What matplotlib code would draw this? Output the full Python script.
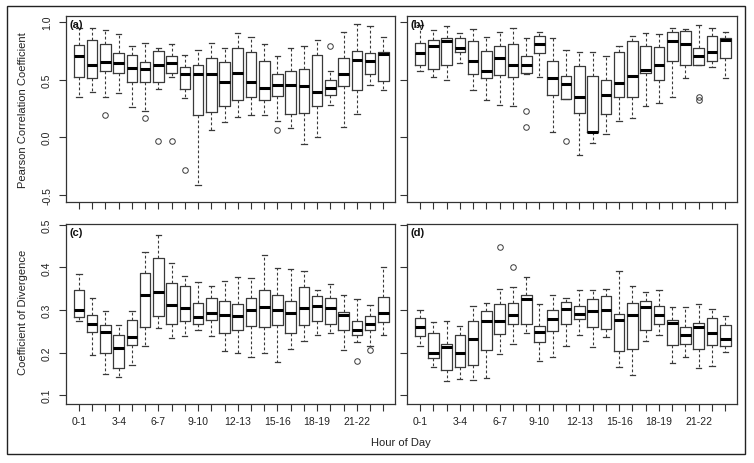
import matplotlib
matplotlib.use("Agg")
import matplotlib.pyplot as plt
from matplotlib.patches import Rectangle

plt.rcParams['font.family'] = ['Liberation Sans', 'DejaVu Sans']

hours = ["%d-%d" % (h, h + 1) for h in range(24)]

# Panel (a): Pearson correlation
a_whislo = [0.35, 0.39, 0.35, 0.38, 0.26, 0.23, 0.42, 0.52, 0.34, -0.41, 0.06, 0.13,
            0.18, 0.19, 0.19, 0.14, 0.08, -0.06, 0.00, 0.28, 0.09, 0.20, 0.45, 0.41]
a_q1 = [0.52, 0.51, 0.57, 0.56, 0.48, 0.48, 0.48, 0.56, 0.42, 0.19, 0.22, 0.27,
        0.32, 0.35, 0.32, 0.36, 0.20, 0.21, 0.27, 0.37, 0.44, 0.41, 0.55, 0.49]
a_med = [0.70, 0.63, 0.65, 0.64, 0.60, 0.59, 0.63, 0.64, 0.55, 0.55, 0.55, 0.48,
         0.56, 0.48, 0.43, 0.45, 0.45, 0.44, 0.39, 0.43, 0.55, 0.67, 0.66, 0.72]
a_q3 = [0.80, 0.84, 0.81, 0.73, 0.71, 0.65, 0.75, 0.70, 0.61, 0.63, 0.69, 0.65,
        0.77, 0.74, 0.66, 0.55, 0.57, 0.59, 0.71, 0.50, 0.69, 0.75, 0.73, 0.74]
a_whishi = [0.95, 0.95, 0.93, 0.89, 0.79, 0.82, 0.77, 0.81, 0.71, 0.76, 0.82, 0.77,
            0.90, 0.87, 0.81, 0.70, 0.77, 0.79, 0.84, 0.57, 0.91, 0.98, 0.96, 0.87]
a_out = {2: [0.19], 5: [0.17], 6: [-0.03], 7: [-0.03], 8: [-0.28], 15: [0.06], 19: [0.79]}

# Panel (b): Pearson correlation
b_whislo = [0.57, 0.52, 0.50, 0.64, 0.41, 0.32, 0.28, 0.27, 0.55, 0.52, 0.05, 0.33,
            -0.15, -0.05, 0.03, 0.14, 0.17, 0.27, 0.30, 0.35, 0.51, 0.63, 0.61, 0.51]
b_q1 = [0.63, 0.59, 0.63, 0.74, 0.55, 0.51, 0.54, 0.52, 0.56, 0.73, 0.37, 0.33,
        0.21, 0.05, 0.20, 0.35, 0.35, 0.56, 0.50, 0.66, 0.63, 0.63, 0.66, 0.69]
b_med = [0.73, 0.79, 0.83, 0.77, 0.66, 0.57, 0.69, 0.63, 0.63, 0.81, 0.51, 0.46,
         0.35, 0.05, 0.37, 0.47, 0.53, 0.58, 0.63, 0.83, 0.81, 0.70, 0.74, 0.84]
b_q3 = [0.82, 0.84, 0.86, 0.86, 0.83, 0.75, 0.79, 0.81, 0.70, 0.88, 0.66, 0.53,
        0.62, 0.53, 0.50, 0.74, 0.83, 0.79, 0.78, 0.91, 0.92, 0.77, 0.88, 0.86]
b_whishi = [0.97, 0.93, 0.96, 0.90, 0.94, 0.87, 0.91, 0.95, 0.86, 0.91, 0.86, 0.76,
            0.74, 0.74, 0.70, 0.79, 0.88, 0.90, 0.89, 0.95, 0.94, 0.97, 0.95, 0.91]
b_out = {8: [0.23, 0.09], 11: [-0.03], 21: [0.32, 0.35]}

# Panel (c): coefficient of divergence
c_whislo = [0.274, 0.195, 0.150, 0.142, 0.170, 0.216, 0.258, 0.233, 0.239, 0.253, 0.239, 0.204,
            0.198, 0.190, 0.198, 0.178, 0.209, 0.226, 0.241, 0.245, 0.206, 0.225, 0.216, 0.240]
c_q1 = [0.284, 0.249, 0.200, 0.164, 0.218, 0.260, 0.285, 0.268, 0.274, 0.268, 0.277, 0.245,
        0.253, 0.262, 0.260, 0.264, 0.246, 0.264, 0.274, 0.268, 0.253, 0.240, 0.254, 0.271]
c_med = [0.301, 0.267, 0.249, 0.210, 0.237, 0.334, 0.343, 0.312, 0.304, 0.284, 0.292, 0.289,
         0.285, 0.301, 0.307, 0.301, 0.294, 0.305, 0.310, 0.305, 0.287, 0.253, 0.267, 0.293]
c_q3 = [0.346, 0.288, 0.264, 0.240, 0.276, 0.388, 0.423, 0.363, 0.357, 0.317, 0.329, 0.320,
        0.315, 0.328, 0.346, 0.335, 0.321, 0.354, 0.332, 0.328, 0.295, 0.274, 0.285, 0.330]
c_whishi = [0.384, 0.329, 0.297, 0.264, 0.297, 0.436, 0.477, 0.410, 0.380, 0.365, 0.357, 0.367,
            0.378, 0.374, 0.429, 0.398, 0.396, 0.392, 0.347, 0.360, 0.336, 0.325, 0.311, 0.402]
c_out = {21: [0.181], 22: [0.205]}

# Panel (d): coefficient of divergence
d_whislo = [0.216, 0.167, 0.134, 0.138, 0.135, 0.139, 0.197, 0.219, 0.246, 0.181, 0.189, 0.216,
            0.240, 0.212, 0.237, 0.167, 0.147, 0.227, 0.240, 0.175, 0.189, 0.164, 0.169, 0.202]
d_q1 = [0.239, 0.188, 0.160, 0.167, 0.171, 0.206, 0.243, 0.267, 0.267, 0.225, 0.250, 0.267,
        0.278, 0.260, 0.256, 0.204, 0.208, 0.253, 0.267, 0.218, 0.221, 0.209, 0.218, 0.216]
d_med = [0.260, 0.198, 0.212, 0.198, 0.232, 0.274, 0.274, 0.289, 0.325, 0.248, 0.278, 0.302,
         0.291, 0.298, 0.300, 0.276, 0.289, 0.307, 0.288, 0.270, 0.240, 0.259, 0.245, 0.232]
d_q3 = [0.281, 0.247, 0.219, 0.241, 0.274, 0.298, 0.314, 0.317, 0.335, 0.262, 0.300, 0.319,
        0.309, 0.326, 0.333, 0.290, 0.316, 0.322, 0.309, 0.277, 0.260, 0.270, 0.280, 0.264]
d_whishi = [0.299, 0.271, 0.273, 0.262, 0.310, 0.317, 0.350, 0.353, 0.378, 0.314, 0.335, 0.328,
            0.346, 0.347, 0.349, 0.392, 0.357, 0.343, 0.348, 0.306, 0.306, 0.313, 0.302, 0.285]
d_out = {6: [0.447], 7: [0.402]}

panels = [
    ("(a)", a_whislo, a_q1, a_med, a_q3, a_whishi, a_out),
    ("(b)", b_whislo, b_q1, b_med, b_q3, b_whishi, b_out),
    ("(c)", c_whislo, c_q1, c_med, c_q3, c_whishi, c_out),
    ("(d)", d_whislo, d_q1, d_med, d_q3, d_whishi, d_out),
]

W, H = 754, 464
fig = plt.figure(figsize=(W / 100, H / 100), dpi=100)

def fr(x0, y0, x1, y1):
    return [x0 / W, 1 - y1 / H, (x1 - x0) / W, (y1 - y0) / H]

rects = [fr(66, 17, 395, 203), fr(407, 17, 737, 203),
         fr(66, 225, 395, 405), fr(407, 225, 737, 405)]

edge = '#3a3a3a'
fs = 7.5
for i, (lab, lo, q1, med, q3, hi, out) in enumerate(panels):
    ax = fig.add_axes(rects[i])
    stats = []
    for k in range(24):
        stats.append(dict(whislo=lo[k], q1=q1[k], med=med[k], q3=q3[k], whishi=hi[k],
                          fliers=out.get(k, [])))
    ax.bxp(stats, positions=list(range(1, 25)), widths=0.8,
           boxprops=dict(color=edge, linewidth=0.9),
           whiskerprops=dict(color=edge, linewidth=0.8, linestyle=(0, (2.5, 2))),
           capprops=dict(color=edge, linewidth=0.9),
           medianprops=dict(color='black', linewidth=2.2, solid_capstyle='butt'),
           flierprops=dict(marker='o', markerfacecolor='none', markeredgecolor=edge,
                           markersize=4, markeredgewidth=0.7),
           capwidths=0.4)
    ax.set_xlim(0.02, 24.88)
    if i < 2:
        ax.set_ylim(-0.56, 1.05)
        ax.set_yticks([-0.5, 0.0, 0.5, 1.0])
    else:
        ax.set_ylim(0.079, 0.502)
        ax.set_yticks([0.1, 0.2, 0.3, 0.4, 0.5])
    ax.set_xticks(list(range(1, 25)))
    if i >= 2:
        ax.set_xticklabels([h if k % 3 == 0 else "" for k, h in enumerate(hours)], fontsize=fs)
    else:
        ax.set_xticklabels([])
    if i % 2 == 0:
        ax.set_yticklabels([("%.1f" % v) for v in ax.get_yticks()], rotation=90,
                           va='center', fontsize=fs)
    else:
        ax.set_yticklabels([])
    ax.tick_params(axis='both', direction='out', length=5, width=0.8, color='#333333',
                   labelcolor='#222222', pad=5)
    ax.tick_params(axis='x', pad=4)
    for s in ax.spines.values():
        s.set_color('#333333')
        s.set_linewidth(0.9)
    ax.text(0.012, 0.985, lab, transform=ax.transAxes, ha='left', va='top',
            fontsize=8, fontweight='bold', color='#111111')

fig.text(23 / W, 1 - 110 / H, "Pearson Correlation Coefficient", rotation=90,
         ha='center', va='center', fontsize=fs + 0.5, color='#222222')
fig.text(23 / W, 1 - 312 / H, "Coefficient of Divergence", rotation=90,
         ha='center', va='center', fontsize=fs + 0.5, color='#222222')
fig.text(401 / W, 1 - 443 / H, "Hour of Day", ha='center', va='center',
         fontsize=fs + 0.5, color='#222222')

fig.add_artist(Rectangle((7 / W, 1 - 455 / H), (745 - 7) / W, (455 - 7) / H,
                         transform=fig.transFigure, fill=False, edgecolor='#222222',
                         linewidth=1.0))

fig.savefig("out.png", dpi=100)
